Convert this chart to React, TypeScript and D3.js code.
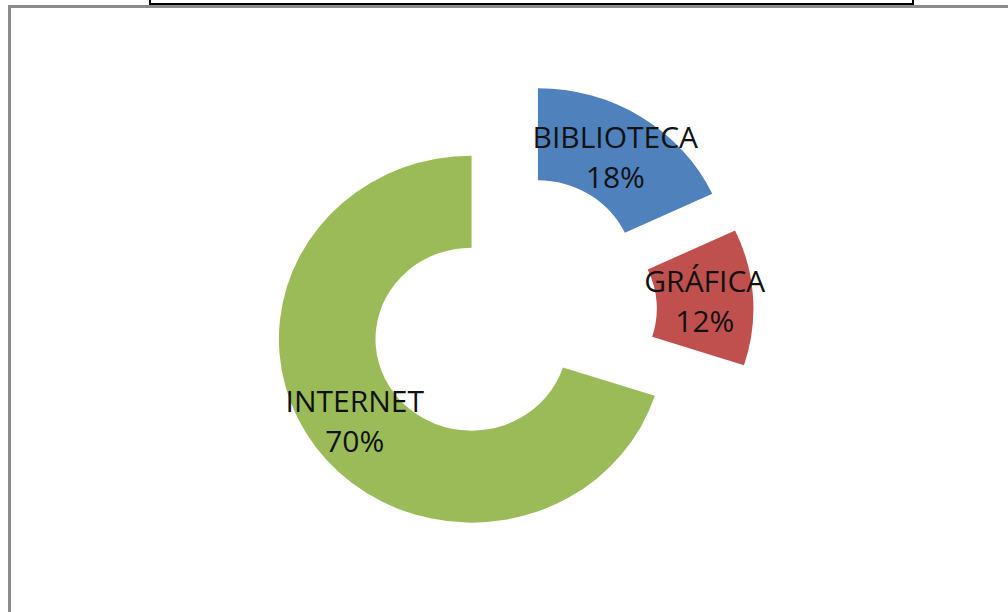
import React from 'react'
import * as d3 from 'd3'

const categories = ['BIBLIOTECA', 'GRÁFICA', 'INTERNET']
const values = [18, 12, 70]
const colors = ['#4F81BD', '#C0504D', '#9BBB59']

const width = 1008
const height = 612
const center = { x: 511.5, y: 311.5 }
const outerR = 183.5
const innerR = 91.5
const explode = 47
const stretchX = 1.05

export default function App() {
  const slices = d3.pie<number>().sort(null).value(d => d)(values)
  const arc = d3.arc<d3.PieArcDatum<number>>().innerRadius(innerR).outerRadius(outerR)
  const total = d3.sum(values)

  return (
    <svg width={width} height={height} style={{ position: 'absolute', left: 0, top: 0, background: '#fff' }}>
      {/* chart frame and the box above it */}
      <line x1={9.5} y1={6} x2={9.5} y2={height} stroke="#8c8c8c" strokeWidth={3} />
      <line x1={8} y1={6.5} x2={width} y2={6.5} stroke="#8c8c8c" strokeWidth={3} />
      <rect x={150} y={-10} width={763} height={14} fill="#fff" stroke="#000" strokeWidth={2} />

      {slices.map((s, i) => {
        const mid = (s.startAngle + s.endAngle) / 2
        const ox = center.x + Math.sin(mid) * explode * stretchX
        const oy = center.y - Math.cos(mid) * explode
        const [lx, ly] = arc.centroid(s)
        const tx = ox + lx * stretchX
        const pct = Math.round((values[i] / total) * 100)
        return (
          <g key={categories[i]}>
            <path
              d={arc(s) || ''}
              fill={colors[i]}
              transform={`translate(${ox},${oy}) scale(${stretchX},1)`}
            />
            <text
              x={tx}
              y={oy + ly}
              textAnchor="middle"
              fontFamily="'Open Sans', sans-serif"
              fontSize={30}
              fill="#111"
            >
              <tspan x={tx} dy={-8}>{categories[i]}</tspan>
              <tspan x={tx} dy={40}>{pct}%</tspan>
            </text>
          </g>
        )
      })}
    </svg>
  )
}
